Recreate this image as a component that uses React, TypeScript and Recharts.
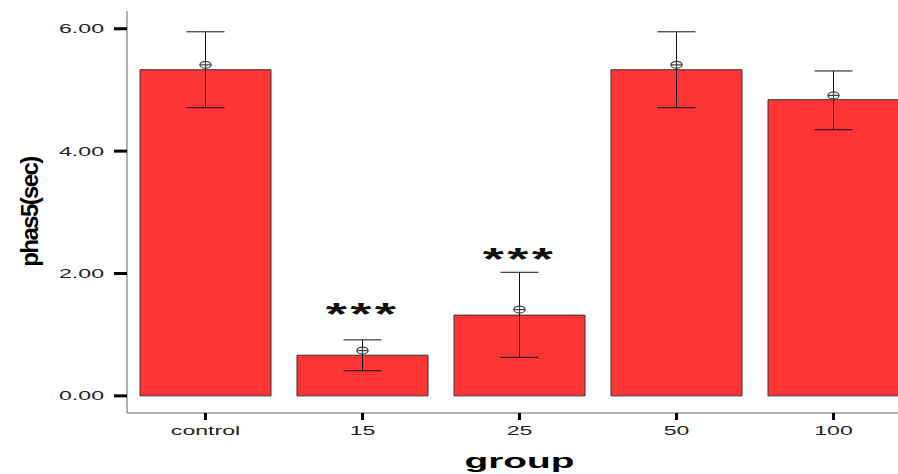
import React from 'react';
import { ComposedChart, Bar, Scatter, XAxis, YAxis, ErrorBar } from 'recharts';

const groups = ['control', '15', '25', '50', '100'];
const means = [5.33, 0.665, 1.32, 5.33, 4.84];
const errLow = [4.71, 0.41, 0.63, 4.71, 4.35];
const errHigh = [5.95, 0.915, 2.02, 5.95, 5.31];
const markers = [5.41, 0.74, 1.41, 5.41, 4.91];
const starLevel = [null, 1.36, 2.26, null, null];
const yTicks = [0, 2, 4, 6];

const data = groups.map((g, i) => ({
  group: g,
  phas5: means[i],
  err: [means[i] - errLow[i], errHigh[i] - means[i]],
  marker: markers[i],
  star: starLevel[i],
}));

const FONT = '"Liberation Sans", Arial, sans-serif';
// the original picture is stretched sideways, so its text is too
const STRETCH = 1.85;

const MarkerShape = ({ cx, cy }: any) => {
  if (cx == null || cy == null || isNaN(cy)) return <g />;
  return (
    <g stroke="#444" strokeWidth={1.2} fill="none">
      <ellipse cx={cx} cy={cy} rx={5.5} ry={3.5} />
      <line x1={cx - 6} y1={cy} x2={cx + 6} y2={cy} />
      <line x1={cx} y1={cy - 3.5} x2={cx} y2={cy + 3.5} />
    </g>
  );
};

const StarShape = ({ cx, cy, payload }: any) => {
  if (payload?.star == null || cy == null || isNaN(cy)) return <g />;
  return (
    <text
      x={0}
      y={0}
      transform={`translate(${cx}, ${cy + 12}) scale(1.7, 1)`}
      textAnchor="middle"
      fontFamily={FONT}
      fontWeight="bold"
      fontSize={32}
      letterSpacing={2}
      fill="#111"
    >
      ***
    </text>
  );
};

const YTick = ({ x, y, payload }: any) => (
  <text
    x={0}
    y={0}
    dy="0.36em"
    transform={`translate(${x}, ${y}) scale(${STRETCH}, 1)`}
    textAnchor="end"
    fontFamily={FONT}
    fontSize={12.5}
    fill="#222"
  >
    {Number(payload.value).toFixed(2)}
  </text>
);

const XTick = ({ x, y, payload }: any) => (
  <text
    x={0}
    y={0}
    dy="0.72em"
    transform={`translate(${x}, ${y}) scale(${STRETCH}, 1)`}
    textAnchor="middle"
    fontFamily={FONT}
    fontSize={12.5}
    fill="#222"
  >
    {payload.value}
  </text>
);

const YLabel = ({ viewBox }: any) => {
  const cy = viewBox.y + viewBox.height / 2;
  return (
    <text
      x={0}
      y={0}
      transform={`translate(${viewBox.x + 38}, ${cy}) rotate(-90)`}
      textAnchor="middle"
      fontFamily={FONT}
      fontWeight="bold"
      fontSize={24}
      letterSpacing={-1.6}
      fill="#000"
    >
      phas5(sec)
    </text>
  );
};

const XLabel = ({ viewBox }: any) => (
  <text
    x={0}
    y={0}
    transform={`translate(${viewBox.x + viewBox.width / 2}, ${viewBox.y + 55}) scale(${STRETCH}, 1)`}
    textAnchor="middle"
    fontFamily={FONT}
    fontWeight="bold"
    fontSize={21}
    fill="#000"
  >
    group
  </text>
);

export default function App() {
  return (
    <div
      style={{
        position: 'absolute',
        left: 0,
        top: 0,
        width: 898,
        height: 474,
        overflow: 'hidden',
        background: '#fff',
      }}
    >
      <ComposedChart
        width={930}
        height={474}
        data={data}
        margin={{ top: 11, right: 18, left: 0, bottom: 0 }}
        barCategoryGap={13}
      >
        <XAxis
          dataKey="group"
          height={61}
          axisLine={{ stroke: '#666', strokeWidth: 1 }}
          tickLine={{ stroke: '#000', strokeWidth: 3 }}
          tickSize={7}
          tickMargin={6}
          tick={<XTick />}
          label={<XLabel />}
        />
        <XAxis
          xAxisId="top"
          dataKey="group"
          orientation="top"
          height={0}
          tick={false}
          tickLine={false}
          axisLine={{ stroke: '#666', strokeWidth: 1 }}
        />
        <YAxis
          width={127}
          domain={[-0.28, 6.29]}
          allowDataOverflow
          ticks={yTicks}
          axisLine={{ stroke: '#666', strokeWidth: 1 }}
          tickLine={{ stroke: '#000', strokeWidth: 3 }}
          tickSize={13}
          tickMargin={10}
          tick={<YTick />}
          label={<YLabel />}
        />
        <Bar
          dataKey="phas5"
          fill="#FF3434"
          stroke="#333"
          strokeWidth={1}
          barSize={131}
          isAnimationActive={false}
        >
          <ErrorBar dataKey="err" width={19} stroke="#111" strokeWidth={1} />
        </Bar>
        <Scatter dataKey="marker" shape={<MarkerShape />} isAnimationActive={false} />
        <Scatter dataKey="star" shape={<StarShape />} isAnimationActive={false} />
      </ComposedChart>
    </div>
  );
}
